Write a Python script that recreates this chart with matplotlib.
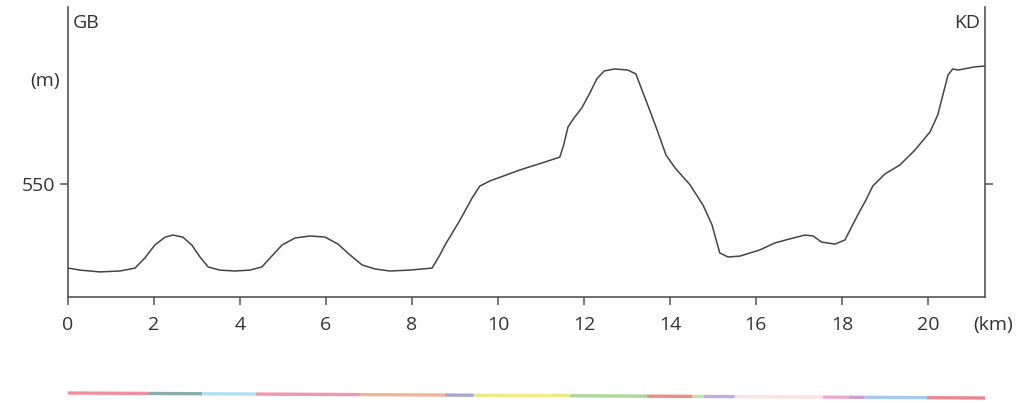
import matplotlib
matplotlib.use("Agg")
import matplotlib.pyplot as plt

# Elevation profile (distance km, elevation m)
dist_km = [0, 0.28, 0.74, 1.21, 1.56, 1.79, 2.02, 2.26, 2.44, 2.67, 2.88, 3.07,
           3.26, 3.53, 3.88, 4.23, 4.51, 4.74, 4.98, 5.28, 5.63, 5.98, 6.28,
           6.56, 6.84, 7.14, 7.49, 7.95, 8.47, 8.65, 8.77, 9.12, 9.40, 9.58,
           9.81, 10.51, 11.09, 11.44, 11.53, 11.63, 11.77, 11.95, 12.14, 12.30,
           12.47, 12.72, 13.02, 13.21, 13.35, 13.53, 13.72, 13.91, 14.12, 14.47,
           14.77, 14.98, 15.16, 15.35, 15.63, 16.09, 16.44, 16.79, 17.14, 17.33,
           17.53, 17.84, 18.07, 18.37, 18.56, 18.72, 19.00, 19.35, 19.70, 20.05,
           20.23, 20.35, 20.47, 20.58, 20.70, 21.09, 21.33]
elev_m = [512.8, 511.9, 511.1, 511.5, 512.8, 517.3, 523.0, 526.5, 527.4, 526.5,
          523.0, 517.7, 513.3, 511.9, 511.5, 511.9, 513.3, 518.1, 523.0, 526.1,
          527.0, 526.5, 523.4, 518.6, 514.2, 512.4, 511.5, 511.9, 512.8, 518.6,
          523.0, 534.1, 543.8, 549.1, 551.3, 556.2, 559.7, 561.9, 567.3, 575.2,
          579.2, 583.6, 590.3, 596.5, 600.0, 600.9, 600.4, 598.7, 591.6, 582.7,
          573.0, 562.8, 557.1, 549.6, 540.7, 531.9, 519.5, 517.7, 518.1, 520.8,
          523.9, 525.7, 527.4, 527.0, 524.3, 523.4, 525.2, 536.3, 542.9, 549.1,
          554.4, 558.4, 565.0, 573.0, 580.5, 589.4, 598.2, 600.9, 600.4, 601.8,
          602.2]

x_ticks = [0, 2, 4, 6, 8, 10, 12, 14, 16, 18, 20]
y_ticks = [550]

# Colour band segments (km boundaries) and colours
band_edges = [0, 1.86, 3.12, 4.37, 6.79, 8.77, 9.44, 11.67, 13.47, 14.53,
              14.79, 15.51, 17.56, 18.16, 18.53, 19.98, 21.33]
band_colors = ["#f0909c", "#8fabae", "#aee0f2", "#f296ae", "#f0b49a", "#a6a6d4",
               "#ecec84", "#acd69a", "#ea8c8c", "#bfe2a6", "#c4aad8", "#fde2de",
               "#eeaad6", "#c8a2d4", "#a8c8f0", "#ea8890"]

XMIN, XMAX = 0, 21.33
YMIN, YMAX = 500, 628.3
W, H = 1024, 403
FONT = ["Open Sans", "DejaVu Sans"]
TXT = "#333333"
FS = 14

fig = plt.figure(figsize=(W / 100, H / 100), dpi=100)
ax = fig.add_axes([68 / W, 1 - 297 / H, (985 - 68) / W, (297 - 7) / H])
ax.plot(dist_km, elev_m, color="#444444", lw=1.1, solid_joinstyle="round",
        solid_capstyle="round")
ax.set_xlim(XMIN, XMAX)
ax.set_ylim(YMIN, YMAX)

axc = "#555555"
for s in ["left", "bottom", "right"]:
    ax.spines[s].set_color(axc)
    ax.spines[s].set_linewidth(1.2)
ax.spines["top"].set_visible(False)

ax.set_xticks(x_ticks)
ax.set_xticklabels([str(t) for t in x_ticks], family=FONT)
ax.set_yticks(y_ticks)
ax.set_yticklabels([str(t) for t in y_ticks], family=FONT)
ax.tick_params(axis="both", colors=axc, labelcolor=TXT, labelsize=FS,
               length=6, width=1.1, direction="out")
ax.tick_params(axis="x", pad=8)
ax.tick_params(axis="y", pad=3, right=True, labelright=False)

ax.text(0.005, 0.975, "GB", transform=ax.transAxes, fontsize=FS,
        color=TXT, ha="left", va="top", family=FONT)
ax.text(0.995, 0.975, "KD", transform=ax.transAxes, fontsize=FS,
        color=TXT, ha="right", va="top", family=FONT)
ax.text(-0.009, 0.745, "(m)", transform=ax.transAxes, fontsize=FS,
        color=TXT, ha="right", va="center", family=FONT)
ax.text(1.009, -0.097, "(km)", transform=ax.transAxes, fontsize=FS,
        color=TXT, ha="center", va="center", family=FONT)

# colour band below the chart, slightly tilted
axb = fig.add_axes([68 / W, 0.0, (985 - 68) / W, 20 / H])
axb.set_xlim(XMIN, XMAX)
axb.set_ylim(0, 20)
axb.axis("off")
y_left, y_right = 20 - (393 - 383), 20 - (398 - 383)
for i, c in enumerate(band_colors):
    x0, x1 = band_edges[i], band_edges[i + 1]
    y0 = y_left + (y_right - y_left) * (x0 - XMIN) / (XMAX - XMIN)
    y1 = y_left + (y_right - y_left) * (x1 - XMIN) / (XMAX - XMIN)
    axb.plot([x0, x1], [y0, y1], color=c, lw=2.4, solid_capstyle="butt")

fig.savefig("out.png", dpi=100)
